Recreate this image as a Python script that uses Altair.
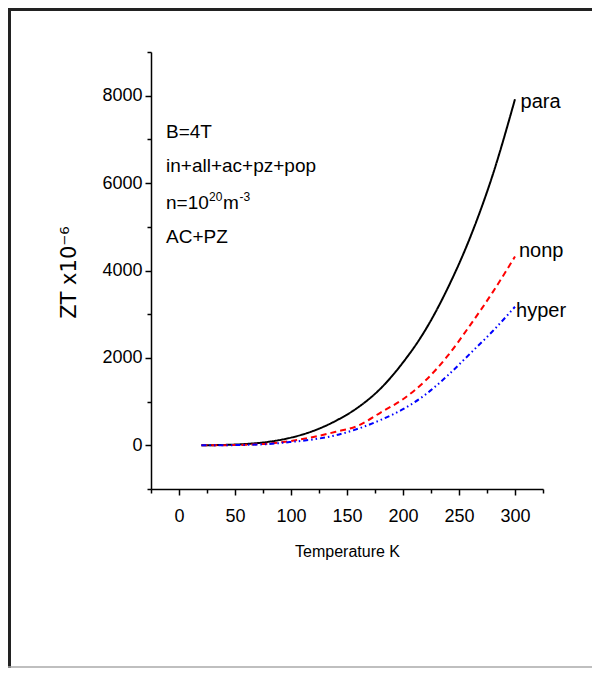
import altair as alt
import pandas as pd

# ---- data ----
temps = [20, 40, 60, 80, 100, 120, 140, 160, 180, 200, 220, 240, 260, 280, 300]
para = [0, 8, 30, 80, 176, 330, 560, 870, 1300, 1896, 2640, 3600, 4760, 6180, 7920]
nonp = [0, 3, 12, 40, 99, 190, 310, 450, 750, 1055, 1480, 2050, 2750, 3500, 4320]
hyper = [0, 2, 9, 30, 77, 135, 230, 380, 580, 826, 1160, 1600, 2100, 2610, 3170]

series_names = ["para", "nonp", "hyper"]
series_colors = ["#000000", "#ff0000", "#0000ff"]
series_dash = [[1, 0], [6, 4], [5, 3, 1.5, 3, 1.5, 3]]
label_x = [305, 303.5, 301]
label_y = [7712, 4316, 2929]

# annotation block: (text, T, ZT, dx px, font size, dy px)
note_pieces = [
    ("B=4T", -11.6, 7032, 0, 19, 0),
    ("in+all+ac+pz+pop", -11.6, 6254, 0, 19, 0),
    ("n=10", -11.6, 5407, 0, 19, 0),
    ("20", -11.6, 5407, 43, 12, -8),
    ("m", -11.6, 5407, 57, 19, 0),
    ("-3", -11.6, 5407, 73.5, 12, -8),
    ("AC+PZ", -11.6, 4629, 0, 19, 0),
]

x_ticks = list(range(-25, 326, 25))
y_ticks = list(range(-1000, 9001, 1000))

rows = []
for name, vals in zip(series_names, [para, nonp, hyper]):
    for t, v in zip(temps, vals):
        rows.append({"T": t, "ZT": v, "series": name})
df = pd.DataFrame(rows)

labels_df = pd.DataFrame({"T": label_x, "ZT": label_y, "text": series_names})

SANS = "Liberation Sans, Arial, sans-serif"

x_scale = alt.Scale(domain=[-25, 325], nice=False, zero=False)
y_scale = alt.Scale(domain=[-1000, 9000], nice=False, zero=False)

x_axis = alt.Axis(
    values=x_ticks,
    labelExpr="datum.value % 50 == 0 ? datum.label : ''",
    tickSize={"condition": {"test": "datum.value % 50 == 0", "value": 6}, "value": 4},
    format="d",
    title="Temperature K",
    titleFont=SANS,
    titleFontSize=16,
    titleFontWeight="normal",
    titleY=67,
    titleBaseline="alphabetic",
    titleColor="black",
    labelFont=SANS,
    labelFontSize=18,
    labelPadding=12,
    labelFlush=False,
    labelOverlap=False,
    labelColor="black",
    domainColor="black",
    domainWidth=1.5,
    tickColor="black",
    tickWidth=1.5,
    grid=False,
)

y_axis = alt.Axis(
    values=y_ticks,
    labelExpr="datum.value % 2000 == 0 ? datum.label : ''",
    tickSize={"condition": {"test": "datum.value % 2000 == 0", "value": 6}, "value": 4},
    format="d",
    title="ZT x10⁻⁶",
    titleFont="DejaVu Sans",
    titleFontSize=21,
    titleFontWeight="normal",
    titleX=-82,
    titleY=220,
    titleAngle=270,
    titleAlign="center",
    titleBaseline="middle",
    titleColor="black",
    labelFont=SANS,
    labelFontSize=18,
    labelPadding=3,
    labelOverlap=False,
    labelColor="black",
    domainColor="black",
    domainWidth=1.5,
    tickColor="black",
    tickWidth=1.5,
    grid=False,
)

X = alt.X("T:Q", scale=x_scale, axis=x_axis)
Y = alt.Y("ZT:Q", scale=y_scale, axis=y_axis)

base = alt.Chart(df)
layers = []
for name, col, dash in zip(series_names, series_colors, series_dash):
    layers.append(
        base.transform_filter(alt.datum.series == name)
        .mark_line(color=col, strokeDash=dash, strokeWidth=2, interpolate="monotone")
        .encode(x=X, y=Y)
    )

curve_labels = alt.Chart(labels_df).mark_text(
    align="left", baseline="alphabetic", font=SANS, fontSize=20, color="black"
).encode(x=X, y=Y, text="text:N")
layers.append(curve_labels)

for text, tx, ty, dx, fs, dy in note_pieces:
    piece_df = pd.DataFrame({"T": [tx], "ZT": [ty], "text": [text]})
    layers.append(
        alt.Chart(piece_df).mark_text(
            align="left", baseline="alphabetic", font=SANS, fontSize=fs,
            color="black", dx=dx, dy=dy
        ).encode(x=X, y=Y, text="text:N")
    )

# decorative frame around the figure (left, top and bottom edges)
frame_df = pd.DataFrame({"k": [0]})
frame_left = alt.Chart(frame_df).mark_rule(color="#222222", strokeWidth=3).encode(
    x=alt.value(-141.5), y=alt.value(-44), y2=alt.value(616)
)
frame_top = alt.Chart(frame_df).mark_rule(color="#222222", strokeWidth=3).encode(
    x=alt.value(-143), x2=alt.value(441), y=alt.value(-42.5)
)
frame_bottom = alt.Chart(frame_df).mark_rule(color="#aaaaaa", strokeWidth=1.5).encode(
    x=alt.value(-143), x2=alt.value(441), y=alt.value(615)
)
layers += [frame_left, frame_top, frame_bottom]

chart = alt.layer(*layers).properties(
    width=392,
    height=437,
    autosize=alt.AutoSizeParams(type="none"),
    padding={"left": 143, "top": 44, "right": 49, "bottom": 179},
    background="white",
).configure_view(strokeWidth=0)

chart.save("out.html", embed_options={"renderer": "svg", "actions": False})
